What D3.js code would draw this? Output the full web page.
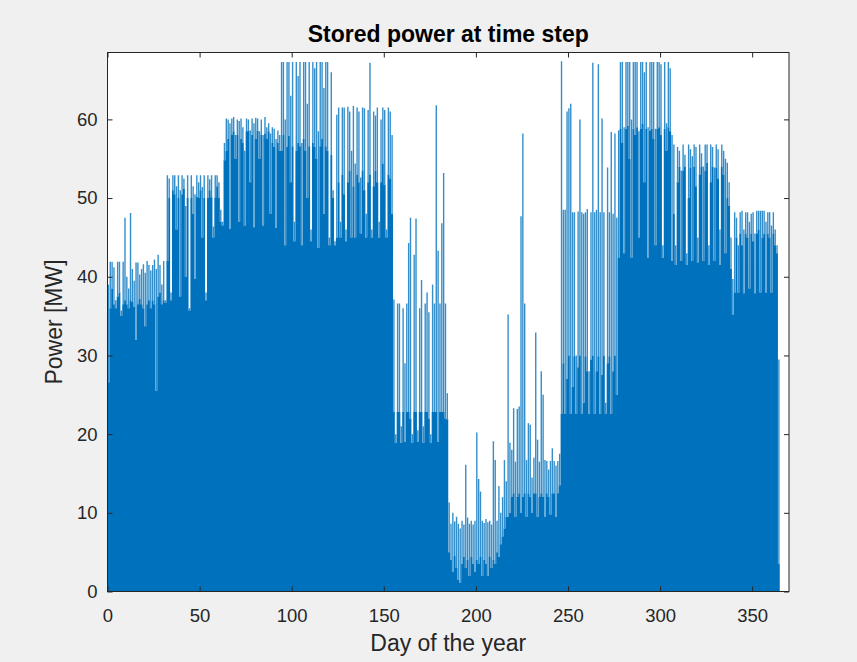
<!DOCTYPE html>
<html>
<head>
<meta charset="utf-8">
<script src="https://cdn.jsdelivr.net/npm/d3@7"></script>
<style>
  body { margin: 0; background: #f0f0f0; }
  svg { display: block; font-family: "Liberation Sans", Arial, Helvetica, sans-serif; }
</style>
</head>
<body>
<svg id="chart" width="857" height="662"></svg>
<script>
// daily maximum of stored power [MW], day 0..364
const peakPower = [
  // days 0-30
  39.0,41.9,41.9,41.2,37.0,41.9,41.9,35.7,41.9,47.5,40.0,38.5,48.1,41.0,39.5,41.8,
  41.8,40.3,41.0,41.6,40.5,42.0,41.5,40.8,41.5,42.2,41.0,42.8,41.5,39.0,42.0,
  // days 31-62
  37.0,52.9,52.5,38.0,52.9,52.9,51.5,52.9,51.0,52.9,52.5,49.0,52.9,36.0,52.9,51.5,
  50.5,52.9,52.0,52.9,51.4,52.9,38.0,52.9,52.4,52.9,46.4,52.9,52.9,52.0,48.5,47.0,
  // days 63-93
  57.0,60.1,60.0,59.5,60.1,60.3,58.0,60.0,59.8,60.1,59.0,56.0,60.1,60.0,58.6,60.1,
  59.5,60.2,60.1,58.5,60.0,58.0,60.3,59.0,59.5,58.2,59.0,58.8,57.5,58.6,58.0,
  // days 94-122
  67.3,67.3,60.0,67.3,67.3,63.0,67.3,47.0,67.3,65.5,67.3,57.0,67.3,67.3,62.0,67.3,
  46.0,67.3,66.5,67.3,58.5,67.3,67.3,64.0,67.3,67.3,45.0,66.0,51.0,
  // days 123-154
  44.5,60.6,61.5,47.0,61.5,61.5,46.0,61.6,61.0,56.0,61.7,54.4,61.5,61.0,52.6,61.5,
  61.4,48.0,61.2,67.2,46.0,61.0,60.5,61.5,47.0,60.0,61.5,61.2,46.0,61.5,61.0,58.0,
  // days 155-184
  37.1,20.0,36.6,36.6,21.0,36.0,29.0,36.6,44.3,47.5,20.0,42.8,47.4,20.5,36.0,39.6,
  21.0,36.6,38.0,35.5,20.0,39.0,36.6,61.8,43.3,36.6,46.8,53.2,36.6,25.2,
  // days 185-216
  11.3,8.6,10.0,8.9,9.5,8.6,8.0,9.0,8.5,16.1,9.4,8.6,9.0,8.5,9.0,20.2,
  14.3,12.7,9.0,8.7,9.2,8.8,9.0,8.5,19.1,16.7,9.0,13.4,10.0,12.0,16.7,14.0,
  // days 217-245
  35.2,18.9,18.0,23.3,16.5,23.2,23.5,47.7,58.2,36.6,16.7,21.4,21.2,14.5,17.0,32.9,
  19.3,16.5,28.0,25.0,16.7,16.6,15.5,16.6,18.2,16.6,16.0,16.6,17.5,
  // days 246-276
  67.4,48.5,48.5,61.0,61.4,62.0,48.2,48.2,30.0,48.3,60.0,48.2,48.0,48.2,48.6,28.0,
  48.2,67.2,48.2,48.5,67.0,48.2,60.1,48.2,24.0,53.9,48.2,58.4,48.0,58.2,47.5,
  // days 277-306
  58.6,67.3,67.3,59.0,67.3,67.3,67.3,60.0,67.3,67.3,67.3,58.5,67.3,67.3,66.0,67.3,
  59.0,67.3,67.3,67.3,58.8,67.3,67.3,67.0,44.0,67.3,59.5,67.3,66.5,58.0,
  // days 307-338
  56.8,44.0,56.5,56.0,53.5,56.8,55.5,43.0,56.8,56.2,55.3,56.8,56.5,45.0,56.8,55.7,
  54.0,56.8,56.8,44.0,56.8,56.5,53.9,56.8,56.2,46.0,56.8,56.0,55.0,54.5,52.0,45.0,
  // days 339-364
  39.7,48.2,47.5,44.0,48.2,48.4,46.0,48.2,48.2,47.0,48.0,48.2,45.5,48.4,48.4,48.4,
  48.4,48.4,47.0,48.2,48.2,46.5,48.2,46.0,44.0,29.5
];

// level up to which the hourly line fills each day solid [MW]
const basePower = [
  // days 0-30
  26.6,36.0,38.5,36.5,36.0,37.5,38.0,35.0,36.5,37.0,36.5,36.0,37.0,36.8,36.2,32.0,
  36.5,37.2,36.5,36.0,33.7,36.5,37.0,36.0,37.0,36.5,25.5,37.5,38.0,36.5,37.0,
  // days 31-62
  36.7,42.0,50.0,37.0,51.0,50.5,46.0,50.0,37.5,50.5,51.2,40.0,50.0,35.7,50.0,48.0,
  39.7,50.2,50.0,51.0,45.0,50.0,37.0,50.0,51.0,50.1,45.0,50.0,51.5,50.0,47.0,46.5,
  // days 63-93
  54.8,56.0,57.5,46.1,58.0,58.5,55.0,58.0,47.0,57.5,57.0,46.5,58.5,58.6,52.0,58.0,
  46.3,57.5,58.6,55.0,58.0,46.5,58.2,57.5,58.5,48.0,57.0,56.5,46.2,57.0,56.0,
  // days 94-122
  56.0,58.0,44.0,56.5,57.9,52.0,56.6,44.5,56.0,57.0,56.6,44.0,57.5,56.0,50.0,56.6,
  44.5,57.0,56.5,55.0,43.7,56.6,57.5,48.0,56.6,56.0,44.0,55.5,50.0,
  // days 123-154
  44.0,45.0,52.0,45.0,53.0,50.5,44.5,52.0,53.5,45.0,51.5,45.0,53.0,52.0,45.5,53.5,
  51.0,45.0,52.0,53.0,45.0,51.5,53.5,52.0,45.0,52.0,54.4,51.7,45.0,53.0,52.5,48.0,
  // days 155-184
  22.8,18.9,22.8,22.8,18.9,22.8,19.0,22.8,22.8,22.0,18.9,22.8,22.8,19.0,22.8,22.8,
  18.9,22.8,22.8,22.0,18.9,22.8,22.8,22.8,19.0,22.8,22.8,22.8,22.0,21.9,
  // days 185-216
  5.0,4.0,2.5,4.5,3.0,1.5,1.1,3.5,4.4,3.0,4.0,2.0,4.4,3.5,2.5,4.0,
  3.5,4.4,2.0,4.0,3.5,2.0,4.4,3.0,4.0,3.5,5.0,4.4,6.0,7.0,8.0,9.5,
  // days 217-245
  9.5,10.0,12.0,12.5,9.5,12.0,12.5,10.0,12.0,12.5,9.5,12.5,12.0,10.0,12.5,12.5,
  9.5,12.0,12.5,12.0,9.5,12.5,12.0,9.8,12.5,12.5,9.5,12.5,13.5,
  // days 246-276
  22.6,29.0,22.6,27.0,30.0,22.6,26.0,29.9,22.6,28.5,30.0,22.6,24.0,29.9,28.0,22.6,
  29.5,30.0,22.6,28.0,29.9,22.6,27.5,30.0,22.6,29.0,29.9,22.6,28.0,30.0,25.0,
  // days 277-306
  42.4,58.8,57.0,43.0,58.8,59.2,55.0,42.4,58.8,58.0,59.0,45.0,58.8,59.4,52.0,58.8,
  42.4,58.6,58.8,57.5,44.0,58.8,59.0,58.0,42.4,58.8,56.0,59.0,58.5,42.0,
  // days 307-338
  48.0,41.5,52.0,54.0,42.0,53.5,54.0,41.5,50.0,53.9,42.0,54.0,51.5,41.8,53.0,54.0,
  42.0,53.5,54.5,41.5,52.0,54.0,42.0,53.9,52.5,41.5,54.0,53.0,43.0,50.0,49.0,41.0,
  // days 339-364
  35.2,38.0,45.0,38.0,45.5,44.0,37.9,45.5,45.0,38.5,45.5,44.5,37.9,45.5,46.0,38.0,
  45.0,45.5,38.0,45.5,45.0,38.0,45.5,44.0,43.0,3.5
];

const xTicks = [0, 50, 100, 150, 200, 250, 300, 350];
const yTicks = [0, 10, 20, 30, 40, 50, 60];

const lineColor = '#0072bd';
const inkColor = '#262626';

const plotLeft = 107.5, plotRight = 789, plotTop = 52.5, plotBottom = 591.5;

const svg = d3.select('#chart');

const x = d3.scaleLinear().domain([0, 370]).range([plotLeft, plotRight]);
const y = d3.scaleLinear().domain([0, 68.5]).range([plotBottom, plotTop]);

svg.append('rect')
  .attr('x', plotLeft).attr('y', plotTop)
  .attr('width', plotRight - plotLeft).attr('height', plotBottom - plotTop)
  .attr('fill', '#fff');

svg.append('clipPath').attr('id', 'plot-clip')
  .append('rect')
  .attr('x', plotLeft).attr('y', plotTop)
  .attr('width', plotRight - plotLeft).attr('height', plotBottom - plotTop);

const plot = svg.append('g').attr('clip-path', 'url(#plot-clip)');

// solid part of each day
let steps = basePower.map((v, i) => [i, v]);
steps.push([basePower.length, basePower[basePower.length - 1]]);

let area = d3.area()
  .x((d) => x(d[0]))
  .y0(y(0))
  .y1((d) => y(d[1]))
  .curve(d3.curveStepAfter);

plot.append('path')
  .attr('d', area(steps))
  .attr('fill', lineColor);

// upper spikes of each day
plot.selectAll('line.spike')
  .data(peakPower)
  .join('line')
  .attr('class', 'spike')
  .attr('x1', (d, i) => x(i + 0.5))
  .attr('x2', (d, i) => x(i + 0.5))
  .attr('y1', (d, i) => y(basePower[i]))
  .attr('y2', (d) => y(d))
  .attr('stroke', lineColor)
  .attr('stroke-width', 1.4)
  .attr('stroke-opacity', 0.8);

// axes, ticks pointing inward on all four sides
function styleAxis(g) {
  g.select('.domain').remove();
  g.selectAll('line').attr('stroke', inkColor);
  g.selectAll('text')
    .attr('fill', inkColor)
    .style('font-size', '18.5px')
    .style('font-family', '"Liberation Sans", Arial, Helvetica, sans-serif');
}

svg.append('g')
  .attr('transform', `translate(0,${plotBottom})`)
  .call(d3.axisBottom(x).tickValues(xTicks).tickSizeInner(-5).tickSizeOuter(0).tickPadding(17))
  .call(styleAxis);

svg.append('g')
  .attr('transform', `translate(0,${plotTop})`)
  .call(d3.axisTop(x).tickValues(xTicks).tickSize(-5).tickFormat(''))
  .call(styleAxis);

svg.append('g')
  .attr('transform', `translate(${plotLeft},0)`)
  .call(d3.axisLeft(y).tickValues(yTicks).tickSizeInner(-5).tickSizeOuter(0).tickPadding(10))
  .call(styleAxis);

svg.append('g')
  .attr('transform', `translate(${plotRight},0)`)
  .call(d3.axisRight(y).tickValues(yTicks).tickSize(-5).tickFormat(''))
  .call(styleAxis);

svg.append('rect')
  .attr('x', plotLeft).attr('y', plotTop)
  .attr('width', plotRight - plotLeft).attr('height', plotBottom - plotTop)
  .attr('fill', 'none')
  .attr('stroke', inkColor)
  .attr('stroke-width', 1);

svg.append('text')
  .attr('x', (plotLeft + plotRight) / 2).attr('y', 651)
  .attr('text-anchor', 'middle')
  .attr('fill', inkColor)
  .style('font-size', '23px')
  .text('Day of the year');

svg.append('text')
  .attr('transform', `translate(62,${(plotTop + plotBottom) / 2}) rotate(-90)`)
  .attr('text-anchor', 'middle')
  .attr('fill', inkColor)
  .style('font-size', '23px')
  .text('Power [MW]');

svg.append('text')
  .attr('x', (plotLeft + plotRight) / 2).attr('y', 41.5)
  .attr('text-anchor', 'middle')
  .attr('fill', '#000')
  .style('font-size', '23px')
  .style('font-weight', 'bold')
  .text('Stored power at time step');
</script>
</body>
</html>
